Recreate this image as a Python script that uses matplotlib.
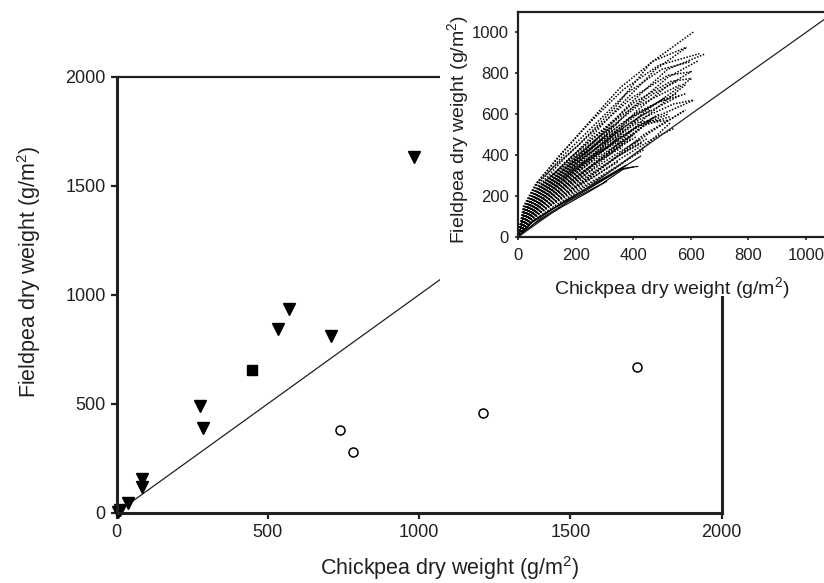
# -*- coding: utf-8 -*-

"""
Fieldpea vs chickpea dry weight, with an inset of the simulated trajectories
"""

import matplotlib
matplotlib.use('Agg')
import matplotlib.pyplot as plt
from matplotlib.patches import Rectangle

matplotlib.rcParams['font.family'] = ['Liberation Sans', 'DejaVu Sans']
matplotlib.rcParams['mathtext.fontset'] = 'custom'
matplotlib.rcParams['mathtext.rm'] = 'Liberation Sans'

INK = '#231f20'

# main panel: observed dry weights (g/m2)
tri_x = [984, 570, 533, 708, 275, 286, 83, 83, 36, 11, 5]
tri_y = [1630, 933, 841, 810, 491, 390, 153, 119, 43, 12, 5]
square_x = [448]
square_y = [655]
circle_x = [738, 780, 1210, 1719]
circle_y = [379, 280, 459, 670]
main_ticks = [0, 500, 1000, 1500, 2000]

# inset: simulated trajectories
dotted_traces = [
    ([0, 19, 62, 115, 210, 335, 460, 612], [0, 150, 260, 330, 450, 630, 850, 1005]),
    ([0, 21, 68, 135, 240, 355, 470, 586], [0, 145, 270, 380, 550, 730, 860, 928]),
    ([0, 21, 73, 145, 250, 365, 490, 630], [0, 140, 275, 400, 560, 720, 840, 896]),
    ([0, 23, 78, 155, 260, 375, 500, 597], [0, 135, 270, 395, 540, 700, 820, 856]),
    ([0, 26, 83, 165, 280, 395, 520, 603], [0, 130, 265, 390, 540, 680, 790, 808]),
    ([0, 26, 88, 175, 290, 405, 530, 603], [0, 125, 255, 380, 520, 660, 760, 775]),
    ([0, 26, 94, 187, 290, 415, 562], [0, 120, 245, 370, 500, 640, 743]),
    ([0, 27, 83, 160, 260, 365, 470, 550], [0, 128, 250, 360, 480, 600, 700, 760]),
    ([0, 31, 99, 187, 300, 415, 550], [0, 115, 235, 350, 490, 610, 700]),
    ([0, 31, 104, 197, 312, 425, 560], [0, 110, 225, 340, 480, 590, 690]),
    ([0, 31, 94, 177, 280, 385, 490, 582], [0, 125, 240, 345, 470, 580, 660, 700]),
    ([0, 33, 99, 187, 300, 405, 510], [0, 115, 225, 335, 470, 590, 680]),
    ([0, 42, 94, 187, 300, 415, 540, 612], [0, 95, 200, 320, 450, 570, 650, 670]),
    ([0, 37, 104, 197, 312, 415, 520], [0, 100, 200, 310, 440, 540, 600]),
    ([0, 31, 104, 208, 312, 415, 493], [0, 105, 215, 330, 460, 560, 571]),
    ([0, 42, 125, 228, 343, 447, 520], [0, 100, 210, 320, 450, 555, 570]),
    ([0, 36, 114, 218, 333, 437, 530], [0, 95, 195, 300, 430, 545, 590]),
    ([0, 42, 125, 228, 343, 457, 580], [0, 80, 170, 270, 390, 510, 620]),
    ([0, 40, 109, 192, 290, 385, 478], [0, 115, 215, 315, 420, 510, 590]),
    ([0, 47, 135, 239, 353, 468, 540], [0, 90, 175, 270, 380, 480, 530]),
    ([0, 47, 135, 250, 353, 447], [0, 95, 190, 300, 400, 480]),
    ([0, 42, 114, 208, 312, 395], [0, 110, 200, 300, 410, 480]),
    ([0, 36, 104, 187, 270, 353], [0, 120, 220, 310, 400, 470]),
    ([0, 31, 94, 177, 270, 343], [0, 135, 250, 350, 450, 520]),
    ([0, 31, 83, 156, 239, 312], [0, 140, 240, 330, 420, 500]),
    ([0, 29, 94, 177, 260, 322], [0, 130, 230, 320, 400, 450]),
    ([0, 36, 109, 197, 290, 364], [0, 105, 205, 295, 380, 440]),
    ([0, 42, 114, 187, 260], [0, 100, 190, 260, 330]),
    ([0, 42, 125, 228, 343, 447, 530], [0, 70, 150, 240, 340, 450, 560]),
    ([0, 36, 114, 208, 333, 468, 612], [0, 85, 175, 275, 420, 580, 670]),
    ([0, 36, 104, 197, 312, 447, 582], [0, 90, 180, 280, 410, 590, 745]),
    ([0, 31, 104, 187, 312, 437, 603], [0, 95, 195, 290, 440, 610, 775]),
    ([0, 31, 94, 177, 290, 415, 520, 603], [0, 100, 200, 300, 440, 620, 740, 810]),
    ([0, 31, 94, 166, 270, 395, 520, 624], [0, 110, 220, 310, 450, 630, 780, 860]),
    ([0, 26, 83, 156, 260, 395, 520, 650], [0, 120, 230, 320, 460, 660, 820, 895]),
    ([0, 26, 73, 135, 228, 353, 478, 587], [0, 140, 250, 320, 450, 640, 820, 928]),
    ([0, 42, 114, 208, 312, 437, 582], [0, 80, 160, 250, 360, 500, 620]),
    # dense middle band
    ([0, 30, 80, 140, 210, 290, 370], [0, 120, 215, 290, 370, 450, 530]),
    ([0, 30, 85, 150, 220, 300, 390], [0, 115, 205, 280, 355, 440, 520]),
    ([0, 35, 90, 160, 230, 310, 400], [0, 110, 195, 270, 340, 420, 500]),
    ([0, 35, 95, 165, 240, 320, 410], [0, 105, 190, 260, 330, 410, 490]),
    ([0, 38, 100, 170, 250, 330, 420], [0, 100, 180, 250, 320, 395, 475]),
    ([0, 38, 105, 180, 260, 340, 430], [0, 95, 175, 245, 315, 390, 460]),
    ([0, 25, 70, 130, 200, 270, 350], [0, 130, 230, 310, 390, 470, 560]),
    ([0, 25, 75, 135, 205, 285, 365], [0, 125, 225, 300, 380, 465, 545]),
    ([0, 28, 78, 140, 215, 295, 380, 460], [0, 125, 220, 295, 375, 460, 550, 620]),
    ([0, 33, 88, 155, 230, 315, 400, 490], [0, 118, 210, 285, 360, 445, 530, 600]),
    ([0, 40, 110, 190, 270, 350], [0, 90, 170, 240, 300, 370]),
    ([0, 44, 120, 200, 280, 360, 440], [0, 85, 160, 225, 290, 360, 430]),
    ([0, 22, 60, 115, 180, 250, 330], [0, 135, 225, 300, 375, 455, 545]),
    ([0, 27, 72, 125, 190, 265], [0, 132, 230, 295, 365, 445]),
]
solid_traces = [
    ([0, 62, 156, 239, 308], [0, 70, 150, 215, 272]),
    ([0, 73, 177, 291, 364, 401], [0, 85, 175, 260, 330, 343]),
    ([0, 52, 156, 270, 374], [0, 75, 170, 265, 350]),
    ([0, 42, 125, 239, 364, 416], [0, 65, 140, 230, 335, 345]),
    ([0, 52, 146, 250, 343, 426], [0, 80, 160, 245, 320, 395]),
]
inset_ticks = [0, 200, 400, 600, 800, 1000]

fig = plt.figure(figsize=(8.24, 5.83), dpi=100)

# ---- main panel
ax = fig.add_axes([0.1416, 0.1206, 0.7342, 0.7479])
ax.plot([0, 2000], [0, 2000], color=INK, lw=0.9)
ax.plot(tri_x, tri_y, 'v', color='black', ms=9, clip_on=False)
ax.plot(square_x, square_y, 's', color='black', ms=7.5, clip_on=False)
ax.plot(circle_x, circle_y, 'o', mfc='white', mec='black', mew=1.1, ms=6.5,
        clip_on=False)

ax.set_xlim(0, 2000)
ax.set_ylim(0, 2000)
ax.set_xticks(main_ticks)
ax.set_yticks(main_ticks)
for sp in ax.spines.values():
    sp.set_linewidth(2.2)
    sp.set_color(INK)
ax.spines['top'].set_linewidth(1.6)
ax.tick_params(direction='out', length=4, width=1.6, color=INK,
               labelsize=13, labelcolor=INK)
ax.tick_params(axis='x', pad=4.5)
ax.tick_params(axis='y', pad=4)

ax.set_xlabel('Chickpea dry weight (g/m$^{\\mathrm{2}}$)', fontsize=15.5, color=INK)
ax.set_ylabel('Fieldpea dry weight (g/m$^{\\mathrm{2}}$)', fontsize=15.5, color=INK)
ax.xaxis.set_label_coords(0.551, -0.095)
ax.yaxis.set_label_coords(-0.122, 0.552)

# white block that the inset sits on, hides the main panel behind it
ax.add_patch(Rectangle((0.534, 0.4923), 0.47, 0.51, transform=fig.transFigure,
                       facecolor='white', edgecolor='none', zorder=10,
                       clip_on=False))

# ---- inset
ins = fig.add_axes([0.6286, 0.5935, 0.3845, 0.386])
for xs, ys in dotted_traces:
    ins.plot(xs, ys, color='black', lw=1.1, ls=(0, (1, 1)))
for xs, ys in solid_traces:
    ins.plot(xs, ys, color='black', lw=0.8)
ins.plot([0, 1100], [0, 1100], color=INK, lw=0.9)

ins.set_xlim(0, 1100)
ins.set_ylim(0, 1100)
ins.set_xticks(inset_ticks)
ins.set_yticks(inset_ticks)
for sp in ins.spines.values():
    sp.set_linewidth(1.6)
    sp.set_color(INK)
ins.tick_params(direction='out', length=2.5, width=1.2, color=INK,
                labelsize=12, labelcolor=INK)
ins.tick_params(axis='x', pad=5.5)
ins.tick_params(axis='y', pad=4)
ins.set_xlabel('Chickpea dry weight (g/m$^{\\mathrm{2}}$)', fontsize=14, color=INK)
ins.set_ylabel('Fieldpea dry weight (g/m$^{\\mathrm{2}}$)', fontsize=14, color=INK)
ins.xaxis.set_label_coords(0.486, -0.169)
ins.yaxis.set_label_coords(-0.146, 0.476)

fig.savefig('out.png', dpi=100)
